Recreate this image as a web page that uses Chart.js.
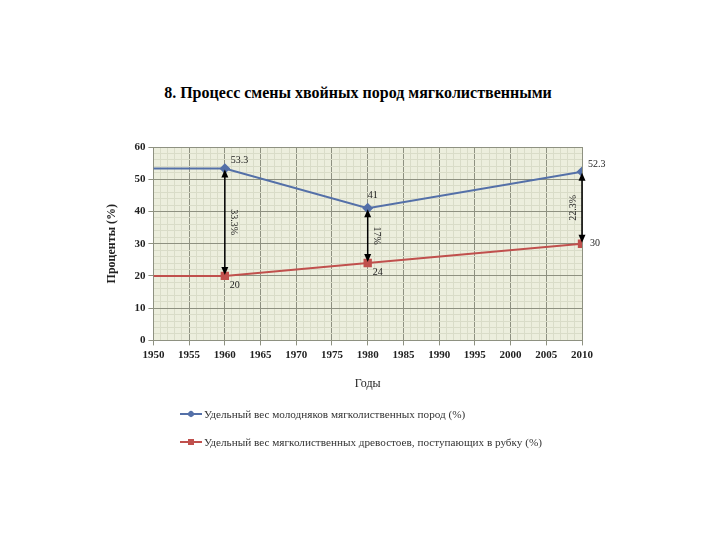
<!DOCTYPE html>
<html>
<head>
<meta charset="utf-8">
<script src="https://cdn.jsdelivr.net/npm/chart.js@4.4.1/dist/chart.umd.min.js"></script>
<style>
  html, body { margin: 0; padding: 0; background: #fff; }
  #wrap { position: relative; width: 720px; height: 540px; }
  #chart { position: absolute; left: 0; top: 0; }
  #title {
    position: absolute; left: 0; width: 716px; top: 84px; text-align: center;
    font: bold 16px "Liberation Serif", serif; color: #000;
  }
  #legend {
    position: absolute; left: 180px; top: 406px;
    font: 11.2px "Liberation Serif", serif; color: #333;
  }
  .item { height: 16px; line-height: 16px; margin-bottom: 12px; position: relative; padding-left: 24px; }
  .item .ln { position: absolute; left: 0; top: 7px; width: 22px; height: 2px; }
  .item .mk { position: absolute; left: 8px; top: 5px; width: 6px; height: 6px; }
</style>
</head>
<body>
<div id="wrap">
  <div id="title">8. Процесс смены хвойных пород мягколиственными</div>
  <canvas id="chart" width="720" height="540"></canvas>
  <div id="legend"></div>
</div>
<script>
// data
const years       = [1950, 1960, 1980, 2010];
const youngShare  = [53.3, 53.3, 41, 52.3];   // молодняки мягколиственных пород
const cutShare    = [20, 20, 24, 30];         // мягколиственные древостои в рубку
const youngLabels = ['', '53.3', '41', '52.3'];
const cutLabels   = ['', '20', '24', '30'];
const gapYears    = [1960, 1980, 2010];
const gapLabels   = ['33.3%', '17%', '22.3%'];
const seriesNames = [
  'Удельный вес молодняков мягколиственных пород (%)',
  'Удельный вес мягколиственных древостоев, поступающих в рубку (%)'
];

const C = {
  blue  : '#5470a8',
  red   : '#c0504d',
  bg    : '#eceedd',
  major : '#8e9181',
  minor : '#d9dcc8',
  text  : '#222'
};

const SERIF = '"Liberation Serif", serif';

// plot background
const bgPlugin = {
  id: 'bg',
  beforeDraw(chart) {
    const a = chart.chartArea, ctx = chart.ctx;
    ctx.save();
    ctx.fillStyle = C.bg;
    ctx.fillRect(a.left, a.top, a.right - a.left, a.bottom - a.top);
    ctx.restore();
  }
};

function arrowHead(ctx, x, y, dir) {
  ctx.beginPath();
  ctx.moveTo(x, y);
  ctx.lineTo(x - 3.5, y + dir * 8);
  ctx.lineTo(x + 3.5, y + dir * 8);
  ctx.closePath();
  ctx.fill();
}

// arrows between series + value labels
const notesPlugin = {
  id: 'notes',
  afterDatasetsDraw(chart) {
    const ctx = chart.ctx, xs = chart.scales.x, ys = chart.scales.y;
    ctx.save();
    ctx.fillStyle = '#000';
    ctx.strokeStyle = '#000';
    ctx.lineWidth = 1.5;
    gapYears.forEach((yr, i) => {
      const k = years.indexOf(yr);
      const x = xs.getPixelForValue(yr);
      const yTop = ys.getPixelForValue(youngShare[k]);
      const yBot = ys.getPixelForValue(cutShare[k]);
      ctx.beginPath();
      ctx.moveTo(x, yTop + 4);
      ctx.lineTo(x, yBot - 4);
      ctx.stroke();
      arrowHead(ctx, x, yTop + 1, 1);
      arrowHead(ctx, x, yBot - 1, -1);

      ctx.save();
      ctx.font = '10px ' + SERIF;
      ctx.fillStyle = C.text;
      ctx.textAlign = 'center';
      ctx.textBaseline = 'middle';
      const ym = (yTop + yBot) / 2;
      if (yr === 2010) {
        ctx.translate(x - 9, ym);
        ctx.rotate(-Math.PI / 2);
      } else {
        ctx.translate(x + 9, ym);
        ctx.rotate(Math.PI / 2);
      }
      ctx.fillText(gapLabels[i], 0, 0);
      ctx.restore();
    });

    ctx.font = '10px ' + SERIF;
    ctx.fillStyle = C.text;
    ctx.textBaseline = 'middle';
    years.forEach((yr, k) => {
      const x = xs.getPixelForValue(yr);
      const yb = ys.getPixelForValue(youngShare[k]);
      const yr2 = ys.getPixelForValue(cutShare[k]);
      if (youngLabels[k]) {
        ctx.textAlign = 'left';
        if (yr === 2010) ctx.fillText(youngLabels[k], x + 6, yb - 7);
        else if (yr === 1980) ctx.fillText(youngLabels[k], x, yb - 13);
        else ctx.fillText(youngLabels[k], x + 6, yb - 8);
      }
      if (cutLabels[k]) {
        ctx.textAlign = 'left';
        if (yr === 2010) ctx.fillText(cutLabels[k], x + 8, yr2);
        else ctx.fillText(cutLabels[k], x + 5, yr2 + 9);
      }
    });
    ctx.restore();
  }
};

function toXY(vals) {
  return years.map((y, i) => ({ x: y, y: vals[i] }));
}

new Chart(document.getElementById('chart').getContext('2d'), {
  type: 'line',
  data: {
    datasets: [
      {
        label           : seriesNames[0],
        data            : toXY(youngShare),
        borderColor     : C.blue,
        backgroundColor : C.blue,
        borderWidth     : 2,
        pointStyle      : 'rectRot',
        pointRadius     : years.map((y, i) => i === 0 ? 0 : 4),
        tension         : 0
      },
      {
        label           : seriesNames[1],
        data            : toXY(cutShare),
        borderColor     : C.red,
        backgroundColor : C.red,
        borderWidth     : 2,
        pointStyle      : 'rect',
        pointRadius     : years.map((y, i) => i === 0 ? 0 : 4.5),
        tension         : 0
      }
    ]
  },
  options: {
    responsive : false,
    animation  : false,
    layout     : { padding: { left: 101, right: 138, top: 147, bottom: 145 } },
    plugins: {
      legend : { display: false },
      tooltip: { enabled: false }
    },
    scales: {
      x: {
        type: 'linear',
        min : 1950,
        max : 2010,
        border: { display: true, color: C.major },
        grid: {
          color    : c => (c.tick && c.tick.value % 5 === 0) ? C.major : C.minor,
          tickColor: c => (c.tick && c.tick.value % 5 === 0) ? C.major : 'rgba(0,0,0,0)',
          tickLength: 5
        },
        ticks: {
          stepSize   : 1,
          autoSkip   : false,
          maxRotation: 0,
          color      : C.text,
          font       : { family: SERIF, size: 11, weight: 'bold' },
          padding    : 3,
          callback   : v => v % 5 === 0 ? String(v) : ''
        },
        title: {
          display: true,
          text   : 'Годы',
          color  : C.text,
          font   : { family: SERIF, size: 12 },
          padding: { top: 12 }
        }
      },
      y: {
        min : 0,
        max : 60,
        border: { display: true, color: C.major },
        grid: {
          color    : c => (c.tick && c.tick.value % 10 === 0) ? C.major : C.minor,
          tickColor: c => (c.tick && c.tick.value % 10 === 0) ? C.major : 'rgba(0,0,0,0)',
          tickLength: 5
        },
        ticks: {
          stepSize: 2,
          autoSkip: false,
          color   : C.text,
          font    : { family: SERIF, size: 11, weight: 'bold' },
          padding : 3,
          callback: v => v % 10 === 0 ? String(v) : ''
        },
        title: {
          display: true,
          text   : 'Проценты (%)',
          color  : C.text,
          font   : { family: SERIF, size: 12, weight: 'bold' },
          padding: { bottom: 12 }
        }
      }
    }
  },
  plugins: [bgPlugin, notesPlugin]
});

// legend
const legend = document.getElementById('legend');
[[C.blue, '50%'], [C.red, '0']].forEach((s, i) => {
  const d = document.createElement('div');
  d.className = 'item';
  d.innerHTML = '<span class="ln" style="background:' + s[0] + '"></span>' +
    '<span class="mk" style="background:' + s[0] + ';border-radius:' + s[1] +
    (i === 0 ? ';transform:rotate(45deg)' : '') + '"></span>' + seriesNames[i];
  legend.appendChild(d);
});
</script>
</body>
</html>
